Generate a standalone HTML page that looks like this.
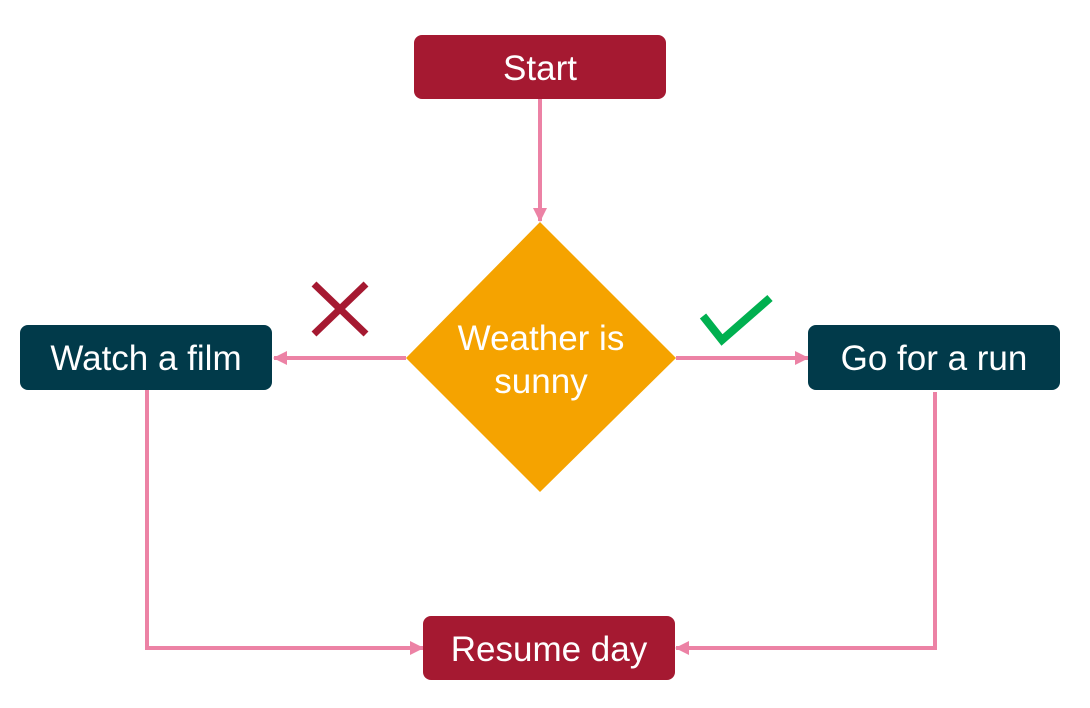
<!DOCTYPE html>
<html><head><style>
html,body{margin:0;padding:0;background:#fff;}
svg{display:block;}
text{font-family:"Liberation Sans",Arial,sans-serif;fill:#fff;font-size:35px;}
</style></head><body>
<svg width="1090" height="708" viewBox="0 0 1090 708" xmlns="http://www.w3.org/2000/svg">
<defs>
<marker id="a" markerWidth="14" markerHeight="14" refX="13" refY="7" orient="auto" markerUnits="userSpaceOnUse">
<path d="M0,0 L14,7 L0,14 Z" fill="#EC82A5"/>
</marker>
</defs>
<g stroke="#EC82A5" stroke-width="4" fill="none">
<line x1="540" y1="99" x2="540" y2="221" marker-end="url(#a)"/>
<line x1="406" y1="358" x2="274" y2="358" marker-end="url(#a)"/>
<line x1="676" y1="358" x2="808" y2="358" marker-end="url(#a)"/>
<polyline points="147,390 147,648 423,648" marker-end="url(#a)"/>
<polyline points="935,392 935,648 676,648" marker-end="url(#a)"/>
</g>
<rect x="414" y="35" width="252" height="64" rx="8" fill="#A51931"/>
<text x="540" y="80" text-anchor="middle">Start</text>
<polygon points="540,222 676,358 540,492 406,358" fill="#F5A300"/>
<text x="541" y="350" text-anchor="middle">Weather is</text>
<text x="541" y="393" text-anchor="middle">sunny</text>
<rect x="20" y="325" width="252" height="65" rx="8" fill="#013A4A"/>
<text x="146" y="370" text-anchor="middle">Watch a film</text>
<rect x="808" y="325" width="252" height="65" rx="8" fill="#013A4A"/>
<text x="934" y="370" text-anchor="middle">Go for a run</text>
<rect x="423" y="616" width="252" height="64" rx="8" fill="#A51931"/>
<text x="549" y="661" text-anchor="middle">Resume day</text>
<g stroke="#A51931" stroke-width="7">
<line x1="314" y1="284" x2="366" y2="334"/>
<line x1="366" y1="284" x2="314" y2="334"/>
</g>
<polyline points="703,316 722,340 770,298" stroke="#00B050" stroke-width="8" fill="none"/>
</svg>
</body></html>
